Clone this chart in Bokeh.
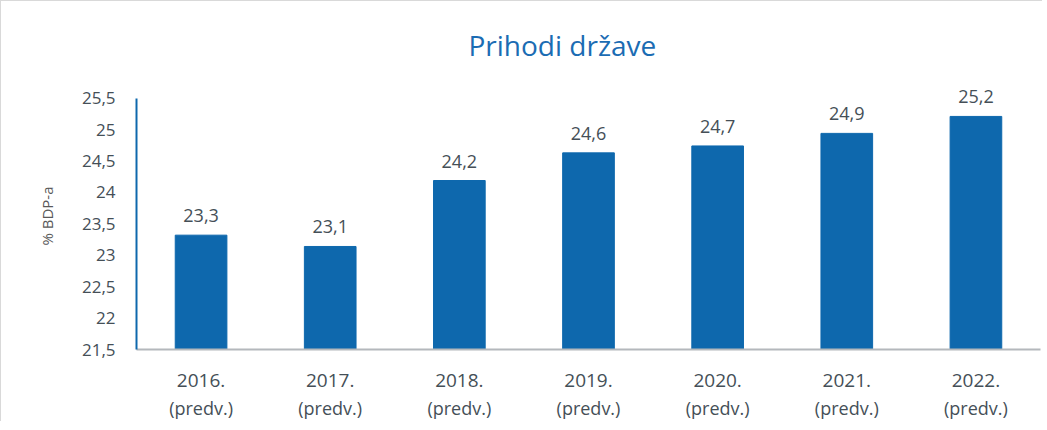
from bokeh.plotting import figure
from bokeh.models import (Range1d, FixedTicker, Title, ColumnDataSource, CategoricalAxis,
                          CustomJSTickFormatter, LabelSet)
from bokeh.embed import file_html
from bokeh.resources import INLINE
from bokeh.core.properties import value

# ---- data ----
years = ["2016.", "2017.", "2018.", "2019.", "2020.", "2021.", "2022."]
note = "(predv.)"
revenue = [23.32, 23.14, 24.19, 24.63, 24.74, 24.94, 25.21]
value_labels = ["23,3", "23,1", "24,2", "24,6", "24,7", "24,9", "25,2"]
y_ticks = [21.5, 22, 22.5, 23, 23.5, 24, 24.5, 25, 25.5]
title_text = "Prihodi države"
y_title = "% BDP-a"

FONT = "Open Sans"
TXT = "#454F57"
BLUE = "#0E68AD"

src = ColumnDataSource(dict(year=years, rev=revenue, lab=value_labels))

p = figure(x_range=years, y_range=Range1d(y_ticks[0], y_ticks[-1] + 0.25),
           width=1042, height=421, output_backend="svg", toolbar_location=None,
           min_border_left=135, min_border_right=3, min_border_top=81, min_border_bottom=70)
p.styles = {"border-top": "1px solid #D9D9D9", "border-left": "1px solid #D9D9D9"}

p.vbar(x="year", top="rev", bottom=y_ticks[0], width=0.4, color=BLUE, source=src)
labels = LabelSet(x="year", y="rev", text="lab", source=src, text_align="center",
                  text_baseline="alphabetic", y_offset=13, text_font=value(FONT),
                  text_font_size=value("18px"), text_color=value(TXT))
p.add_layout(labels)

p.title = Title(text=title_text, align="left", offset=332, standoff=37, text_font=FONT,
                text_font_size="28px", text_font_style="normal", text_color="#1B6CB3")

p.outline_line_color = None
p.grid.visible = False
p.background_fill_color = "white"
p.border_fill_color = "white"

ya = p.yaxis[0]
ya.ticker = FixedTicker(ticks=y_ticks)
ya.bounds = (y_ticks[0], y_ticks[-1])
ya.major_label_overrides = {t: (f"{t:g}").replace(".", ",") for t in y_ticks}
ya.major_tick_line_color = None
ya.minor_tick_line_color = None
ya.axis_line_color = BLUE
ya.axis_line_width = 2
ya.major_label_text_font = FONT
ya.major_label_text_font_size = "17px"
ya.major_label_text_color = TXT
ya.major_label_standoff = 15
ya.axis_label = y_title
ya.axis_label_text_font = FONT
ya.axis_label_text_font_size = "15px"
ya.axis_label_text_font_style = "normal"
ya.axis_label_text_color = "#595959"
ya.axis_label_standoff = 22

xa = p.xaxis[0]
xa.major_tick_line_color = None
xa.minor_tick_line_color = None
xa.axis_line_color = "#B4B8BC"
xa.axis_line_width = 2
xa.major_label_text_font = FONT
xa.major_label_text_font_size = "19px"
xa.major_label_text_color = TXT
xa.major_label_standoff = 18

xa2 = CategoricalAxis(formatter=CustomJSTickFormatter(args=dict(note=note), code="return note"))
xa2.axis_line_color = None
xa2.major_tick_line_color = None
xa2.minor_tick_line_color = None
xa2.major_label_text_font = FONT
xa2.major_label_text_font_size = "18px"
xa2.major_label_text_color = TXT
xa2.major_label_standoff = 0
p.add_layout(xa2, "below")

open("out.html", "w").write(file_html(p, INLINE))
